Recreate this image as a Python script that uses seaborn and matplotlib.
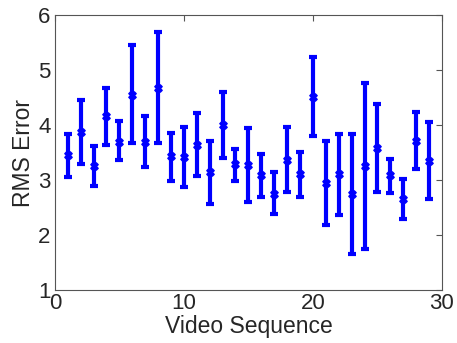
import numpy as np
import pandas as pd
import matplotlib
matplotlib.use("Agg")
import matplotlib.pyplot as plt
import seaborn as sns

# values
seq = list(range(1, 30))
rms = [3.45, 3.87, 3.25, 4.16, 3.70, 4.55, 3.70, 4.68, 3.43, 3.42,
       3.64, 3.14, 4.01, 3.29, 3.28, 3.10, 2.75, 3.36, 3.11, 4.51,
       2.95, 3.11, 2.75, 3.25, 3.58, 3.09, 2.65, 3.71, 3.35]
upper = [3.83, 4.45, 3.62, 4.67, 4.07, 5.45, 4.16, 5.69, 3.86, 3.97,
         4.22, 3.71, 4.61, 3.56, 3.94, 3.47, 3.15, 3.96, 3.52, 5.24,
         3.71, 3.84, 3.84, 4.76, 4.38, 3.39, 3.02, 4.23, 4.06]
lower = [3.05, 3.30, 2.89, 3.64, 3.36, 3.67, 3.24, 3.68, 2.98, 2.88,
         3.07, 2.56, 3.40, 2.98, 2.60, 2.70, 2.38, 2.78, 2.70, 3.80,
         2.18, 2.36, 1.65, 1.75, 2.79, 2.76, 2.29, 3.20, 2.65]

df = pd.DataFrame({"Video Sequence": seq, "RMS Error": rms,
                   "lo": lower, "hi": upper})

sns.set_style("white")
plt.rcParams['font.family'] = ['Liberation Sans', 'DejaVu Sans']

fig = plt.figure(figsize=(4.57, 3.43), dpi=100)
ax = fig.add_axes([0.120, 0.154, 0.847, 0.802])

yerr = np.array([df["RMS Error"] - df["lo"], df["hi"] - df["RMS Error"]])
ax.errorbar(df["Video Sequence"], df["RMS Error"], yerr=yerr, fmt='none',
            ecolor=(0, 0, 1), elinewidth=3, capsize=3, capthick=3)
sns.scatterplot(data=df, x="Video Sequence", y="RMS Error", ax=ax,
                marker='X', s=28, color=(0, 0, 1), edgecolor=(0, 0, 1),
                linewidth=1, zorder=3)

ax.set_xlim(0, 30)
ax.set_ylim(1, 6)
ax.set_xticks([0, 10, 20, 30])
ax.set_yticks([1, 2, 3, 4, 5, 6])
ax.tick_params(direction='in', length=4, width=0.8, color='#555555',
               labelsize=16, top=True, right=True, pad=2)
ax.tick_params(axis='y', pad=3)
for s in ax.spines.values():
    s.set_color('#555555')
    s.set_linewidth(0.8)
ax.set_xlabel("Video Sequence", fontsize=16.5, labelpad=0.5)
ax.set_ylabel("RMS Error", fontsize=16.5, labelpad=2)

fig.savefig("out.png", dpi=100)
